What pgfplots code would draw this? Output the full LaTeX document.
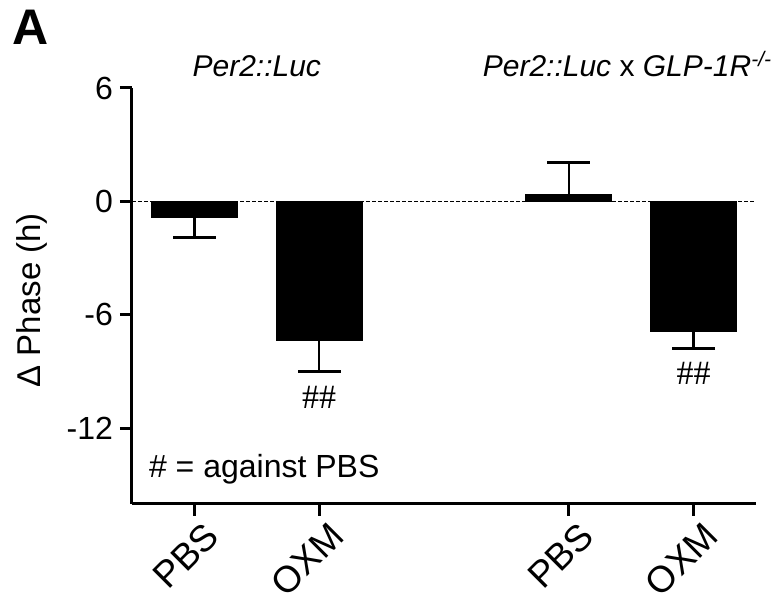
\documentclass[border=0pt]{standalone}
\usepackage{pgfplots}
\pgfplotsset{compat=1.18}
\usepackage{fontspec}
\setmainfont{Liberation Sans}
\newfontfamily\hashfont{Liberation Serif}

\begin{document}
\begin{tikzpicture}
	\begin{axis}[
		name=ax,
		scale only axis,
		width=312pt, height=208pt,
		xmin=-0.5, xmax=4.5,
		ymin=-16, ymax=6,
		axis lines*=left,
		axis line style={line width=1.5pt},
		xtick={0,1,3,4},
		xticklabels={PBS,OXM,PBS,OXM},
		ytick={-12,-6,0,6},
		yticklabels={-12,-6,0,6},
		tick align=outside,
		major tick length=6pt,
		tick style={line width=1.5pt, black},
		xticklabel style={rotate=45, anchor=north east, xshift=5pt, yshift=-1pt, font=\fontsize{18.5}{21}\selectfont},
		yticklabel style={font=\fontsize{16}{19}\selectfont},
		clip=false,
		]
		% zero line
		\draw[line width=0.8pt, dash pattern=on 2pt off 1pt] (axis cs:-0.5,0) -- (axis cs:4.5,0);
		\addplot[ybar, bar width=43pt, bar shift=0pt, fill=black, draw=black] coordinates {
			(0, -0.85)
			(1, -7.36)
			(3, 0.37)
			(4, -6.88)
		};
		\addplot[draw=none, mark=none, forget plot, error bars/.cd, y dir=minus, y explicit,
			error bar style={draw=black, line width=1.3pt, solid},
			error mark options={rotate=90, draw=black, line width=1.3pt, mark size=10.75pt}] coordinates {
			(0, -0.85) +- (0, 1.07)
			(1, -7.36) +- (0, 1.64)
			(4, -6.88) +- (0, 0.90)
		};
		\addplot[draw=none, mark=none, forget plot, error bars/.cd, y dir=plus, y explicit,
			error bar style={draw=black, line width=1.3pt, solid},
			error mark options={rotate=90, draw=black, line width=1.3pt, mark size=10.75pt}] coordinates {
			(3, 0.37) +- (0, 1.68)
		};
		\node[font=\hashfont\fontsize{17}{20}\selectfont] at (axis cs:1,-10.35) {\#\#};
		\node[font=\hashfont\fontsize{17}{20}\selectfont] at (axis cs:4,-9.1) {\#\#};
		\node[anchor=west, xshift=5pt, font=\fontsize{16}{19}\selectfont] at (axis cs:-0.5,-14.15) {\# = against PBS};
		\node[anchor=base, yshift=5.5pt, font=\itshape\fontsize{15}{18}\selectfont] at (axis cs:0.5,6) {Per2::Luc};
		\node[anchor=base, yshift=5.5pt, font=\fontsize{15}{18}\selectfont] at (axis cs:3.47,6) {\textit{Per2::Luc} x \textit{GLP-1R}\textsuperscript{\itshape -/-}};
		\node[rotate=90, anchor=south, inner sep=0pt, font=\fontsize{16.5}{19}\selectfont] at ([xshift=-42pt]rel axis cs:0,0.49) {Δ Phase (h)};
	\end{axis}
	\node[anchor=north west, inner sep=0pt, font=\bfseries\fontsize{25}{30}\selectfont] at ([xshift=-60pt,yshift=39pt]ax.north west) {A};
	\path ([xshift=-66pt,yshift=-49pt]ax.south west) rectangle ([xshift=12pt,yshift=44pt]ax.north east);
\end{tikzpicture}
\end{document}
